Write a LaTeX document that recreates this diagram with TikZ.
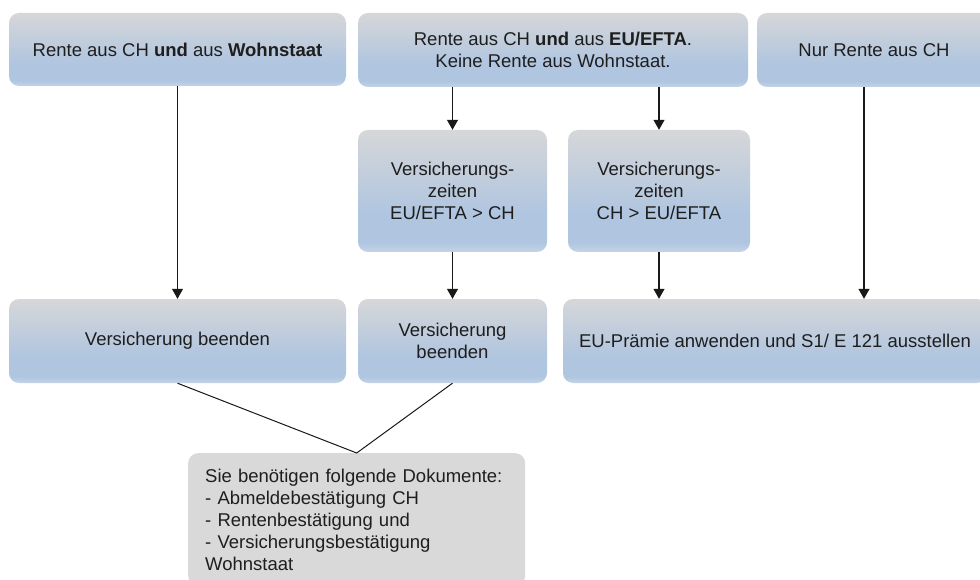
\documentclass[tikz,border=0pt]{standalone}
\usepackage{fontspec}
\setmainfont{Liberation Sans}
\usetikzlibrary{arrows.meta}
\definecolor{shtop}{HTML}{D6D7D9}
\definecolor{shmid}{HTML}{C3CEDC}
\definecolor{shblue}{HTML}{AFC5E0}
\definecolor{shbot}{HTML}{C4D4E8}
\definecolor{docgray}{HTML}{D9D9D9}
\definecolor{txt}{HTML}{1E1E1E}
\pgfdeclareverticalshading{boxshade}{100bp}{color(0bp)=(shbot); color(25bp)=(shbot); color(29bp)=(shblue); color(40bp)=(shblue); color(58bp)=(shmid); color(75bp)=(shtop); color(100bp)=(shtop)}
\tikzset{
  flowbox/.style={shading=boxshade, rounded corners=10pt, draw=none, text=txt, align=center,
    font=\fontsize{18.5}{22}\selectfont, inner sep=0pt},
  docbox/.style={fill=docgray, rounded corners=10pt, draw=none, text=txt, align=left,
    font=\fontsize{18.5}{22}\selectfont, text width=303pt, inner xsep=17pt, inner ysep=15.5pt,
    execute at begin node={\hyphenpenalty=10000\exhyphenpenalty=10000}},
  arr/.style={draw=black!90, line width=1.1pt, -{Triangle[width=11pt,length=10pt]}},
  conn/.style={draw=black!90, line width=1pt}
}
\begin{document}
\begin{tikzpicture}[x=1pt,y=-1pt]
\path[use as bounding box, clip] (0,0) rectangle (980,580);
\fill[white] (0,0) rectangle (980,580);
% top row
\node[flowbox, minimum width=337pt, minimum height=73pt] (A) at (177.5,49.5)
  {Rente aus CH \textbf{und} aus \textbf{Wohnstaat}};
\node[flowbox, minimum width=390pt, minimum height=74pt] (B) at (553,50)
  {Rente aus CH \textbf{und} aus \textbf{EU/EFTA}.\\Keine Rente aus Wohnstaat.};
\node[flowbox, minimum width=234pt, minimum height=74pt] (C) at (874,50)
  {Nur Rente aus CH};
% middle row
\node[flowbox, minimum width=189pt, minimum height=122pt] (V1) at (452.5,191)
  {Versicherungs-\\zeiten\\EU/EFTA > CH};
\node[flowbox, minimum width=182pt, minimum height=122pt] (V2) at (659,191)
  {Versicherungs-\\zeiten\\CH > EU/EFTA};
% bottom row
\node[flowbox, minimum width=337pt, minimum height=84pt] (D) at (177.5,341)
  {Versicherung beenden};
\node[flowbox, minimum width=189pt, minimum height=84pt] (E) at (452.5,341)
  {Versicherung\\beenden};
\node[flowbox, minimum width=424pt, minimum height=84pt] (F) at (775,341)
  {EU-Prämie anwenden und S1/ E 121 ausstellen};
% documents
\node[docbox, anchor=north west] (Doc) at (188,453)
  {Sie benötigen folgende Dokumente:\\- Abmeldebestätigung CH\\- Rentenbestätigung und\\- Versicherungsbestätigung\\Wohnstaat};
% connectors
\coordinate (cx) at (864,0);
\draw[arr] (A.south) -- (D.north);
\draw[arr] (B.south -| V1.north) -- (V1.north);
\draw[arr] (B.south -| V2.north) -- (V2.north);
\draw[arr] (V1.south) -- (E.north);
\draw[arr] (V2.south) -- (V2.south |- F.north);
\draw[arr] (C.south -| cx) -- (F.north -| cx);
\draw[conn] (D.south) -- (Doc.north) -- (E.south);
\end{tikzpicture}
\end{document}
